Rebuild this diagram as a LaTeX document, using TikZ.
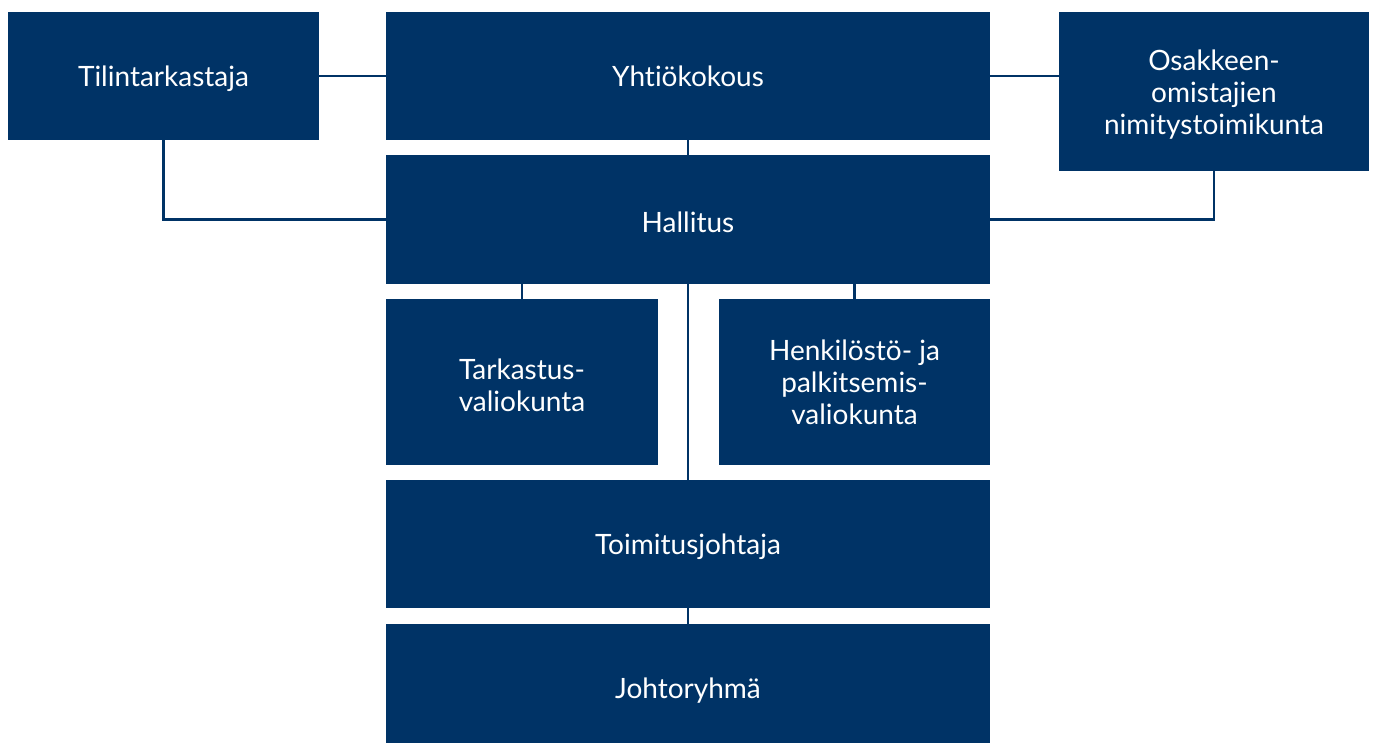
\documentclass[tikz,border=0pt]{standalone}
\usepackage{fontspec}
\setmainfont{Lato}[Ligatures=NoCommon]
\definecolor{navy}{RGB}{0,51,102}
\newcommand{\lowline}[1]{\raisebox{-3pt}[\height][\depth]{#1}}
\tikzset{
  orgbox/.style={fill=navy, text=white, inner sep=0pt, align=center,
    font=\fontsize{28}{32}\selectfont},
  link/.style={draw=navy, line width=2.5pt}
}
\begin{document}
\begin{tikzpicture}[x=1pt, y=-1pt]
\useasboundingbox (0,0) rectangle (1375,742);
\clip (0,0) rectangle (1375,742);
\node[orgbox, minimum width=311pt, minimum height=128pt] (til) at (163.5,76) {\lowline{Tilintarkastaja}};
\node[orgbox, minimum width=604pt, minimum height=128pt] (yht) at (688,76) {Yhtiökokous};
\node[orgbox, minimum width=310pt, minimum height=159pt] (osa) at (1214,91.5) {\lowline{Osakkeen-}\\\lowline{omistajien}\\\lowline{nimitystoimikunta}};
\node[orgbox, minimum width=604pt, minimum height=129pt] (hal) at (688,219.5) {\lowline{Hallitus}};
\node[orgbox, minimum width=272pt, minimum height=166pt] (tar) at (522,382) {\lowline{Tarkastus-}\\\lowline{valiokunta}};
\node[orgbox, minimum width=271pt, minimum height=166pt] (hen) at (854.5,382) {Henkilöstö- ja\\palkitsemis-\\valiokunta};
\node[orgbox, minimum width=604pt, minimum height=128pt] (toi) at (688,544) {\lowline{Toimitusjohtaja}};
\node[orgbox, minimum width=604pt, minimum height=128pt] (joh) at (688,688) {\lowline{Johtoryhmä}};
\draw[link] (til.east) -- (yht.west);
\draw[link] (yht.east) -- (yht.east -| osa.west);
\draw[link] (yht.south) -- (hal.north);
\draw[link] (til.south) -- (til.south |- hal.west) -- (hal.west);
\draw[link] (osa.south) -- (osa.south |- hal.east) -- (hal.east);
\draw[link] (tar.north |- hal.south) -- (tar.north);
\draw[link] (hen.north |- hal.south) -- (hen.north);
\draw[link] (hal.south) -- (toi.north);
\draw[link] (toi.south) -- (joh.north);
\end{tikzpicture}
\end{document}
